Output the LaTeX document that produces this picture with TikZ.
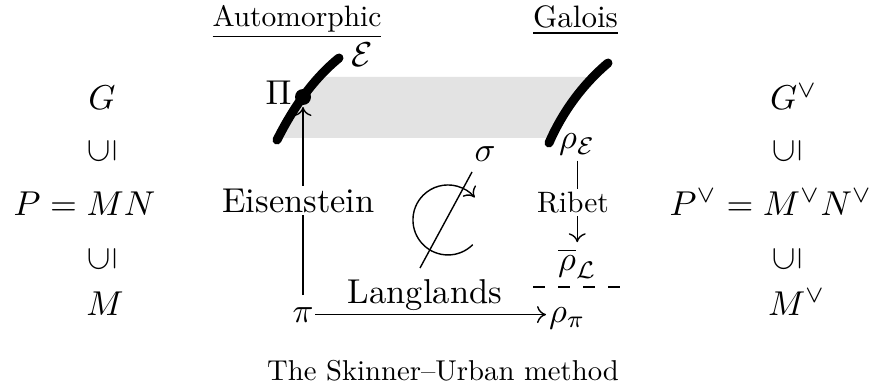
\RequirePackage{fix-cm}
\documentclass[tikz,border=0pt]{standalone}
\usepackage{graphicx}
\usetikzlibrary{arrows.meta,calc}
\newcommand{\bigt}[1]{\scalebox{3.45}{\fontsize{10}{12}\selectfont #1}}
\newcommand{\smallt}[2][2.95]{\scalebox{#1}{\fontsize{10}{12}\selectfont #2}}
\newcommand{\incl}{\bigt{\rotatebox{90}{$\subseteq$}}}
\begin{document}
\begin{tikzpicture}[x=1pt,y=-1pt,
  every node/.style={inner sep=0pt, outer sep=0pt},
  thinline/.style={line width=1.4pt},
  arr/.style={thinline, -{To[length=9pt,width=17pt]}},
  fatcurve/.style={line width=9pt, line cap=round},
  whitebg/.style={fill=white, inner sep=3pt}]
\useasboundingbox (0,0) rectangle (883,390);
% gray band
\fill[black!11] (320,77) -- (594,77) -- (551,138) -- (279,138) -- cycle;
% curves
\draw[fatcurve] (277,140) .. controls (292,110) and (312,80) .. (339,58);
\draw[fatcurve] (549,143) .. controls (562,113) and (582,85) .. (608,63);
\node[circle, fill=black, minimum size=16pt] (dot) at (303,97) {};
% headers
\node[anchor=base] (auto) at (297,27) {\smallt{\underline{Automorphic}}};
\node[anchor=base] (gal) at (575.5,28) {\smallt[3.1]{\underline{Galois}}};
% left column
\node[anchor=base] (G) at (102,110) {\bigt{$G$}};
\node (s1) at (102,151) {\incl};
\node[anchor=base] (P) at (84.5,215) {\bigt{$P = MN$}};
\node (s2) at (102,259) {\incl};
\node[anchor=base] (M) at (105,315) {\bigt{$M$}};
% right column
\node[anchor=base west] (Gd) at (770,110) {\bigt{$G^\vee$}};
\node (s3) at (787,151) {\incl};
\node[anchor=base] (Pd) at (771,215) {\bigt{$P^\vee = M^\vee N^\vee$}};
\node (s4) at (787,259) {\incl};
\node[anchor=base west] (Md) at (768,315) {\bigt{$M^\vee$}};
% middle labels
\node[anchor=base] (E) at (362,67) {\bigt{$\mathcal{E}$}};
\node[anchor=base] (Pi) at (278.5,105) {\bigt{$\Pi$}};
\node[anchor=base] (pi) at (303,322) {\bigt{$\pi$}};
\node[anchor=base west] (rhopi) at (549,322) {\bigt{$\rho_\pi$}};
\node[anchor=base west] (rhobar) at (558,270) {\bigt{$\overline{\rho}_{\mathcal{L}}$}};
\node[anchor=base west] (rhoE) at (559,149) {\bigt{$\rho_{\mathcal{E}}$}};
\node[anchor=base] (sigma) at (485,162) {\bigt{$\sigma$}};
% arrows
\draw[arr, shorten <=12pt, shorten >=2pt] (pi.north) -- (dot.south);
\node[whitebg, anchor=base] (eis) at (298.5,212) {\bigt{Eisenstein}};
\draw[arr, shorten <=2pt, shorten >=3pt] (pi.east) -- (pi.east -| rhopi.west);
\node[anchor=base] (lang) at (425,303) {\bigt{Langlands}};
\draw[arr, shorten <=5pt, shorten >=6pt] (rhoE.south) -- (rhoE.south |- rhobar.north);
\node[whitebg, anchor=base] (ribet) at (573,212) {\smallt{Ribet}};
% dashed line
\coordinate (dl) at (533,287);
\coordinate (dr) at (620,287);
\draw[line width=1.5pt, dash pattern=on 12pt off 13pt] (dl) -- (dr);
% sigma rotation symbol
\coordinate (cc) at (448,220);
\draw[arr] ($(cc)+(24.7,24.7)$) arc[start angle=-45, end angle=-320, radius=35pt];
\coordinate (da) at (420,268);
\coordinate (db) at (472,172);
\draw[thinline] (da) -- (db);
% caption
\node[anchor=base] (cap) at (443,380) {\smallt[2.87]{The Skinner--Urban method}};
\end{tikzpicture}
\end{document}
